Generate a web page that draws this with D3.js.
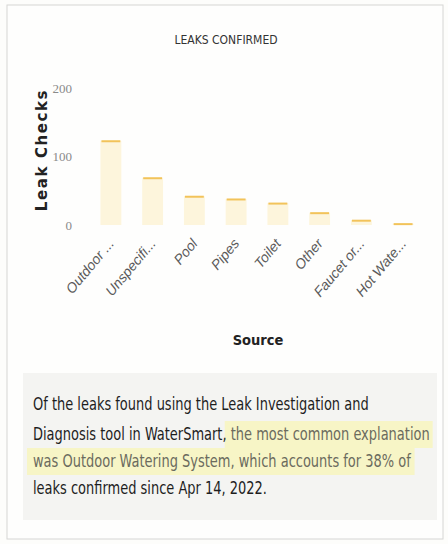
<!DOCTYPE html>
<html>
<head>
<meta charset="utf-8">
<script src="https://cdn.jsdelivr.net/npm/d3@7"></script>
<style>
  body { margin: 0; background: #fdfdfb; }
  svg { display: block; }
</style>
</head>
<body>
<svg id="chart"></svg>
<script>
    /* chart data */
    let sources = ["Outdoor ...", "Unspecifi...", "Pool", "Pipes", "Toilet", "Other", "Faucet or...", "Hot Wate..."];
    let leakChecks = [123, 69, 42, 38, 32, 18, 7, 2];
    let yTicks = [0, 100, 200];
    let noteLines = [
        [["Of the leaks found using the Leak Investigation and", false]],
        [["Diagnosis tool in WaterSmart, ", false], ["the most common explanation", true]],
        [["was Outdoor Watering System, which accounts for 38% of", true]],
        [["leaks confirmed since Apr 14, 2022.", false]]
    ];

    let width = 448;
    let height = 544;

    const svg = d3.select("#chart").attr("width", width).attr("height", height)

    // card outline
    svg.append("rect").attr("x", 7).attr("y", 5).attr("width", 436).attr("height", 534)
        .attr("fill", "#fefefd").attr("stroke", "#d6d6d4").attr("stroke-width", 1)

    svg.append("text").text("LEAKS CONFIRMED")
        .attr("x", 226).attr("y", 44).attr("text-anchor", "middle")
        .attr("font-family", "'DejaVu Sans Condensed', sans-serif").attr("font-size", 12)
        .attr("fill", "#333")

    const xScale = d3.scaleBand().domain(sources).range([90, 424]).paddingInner(0.5).paddingOuter(0.25)
    const yScale = d3.scaleLinear().domain([0, 200]).range([225, 88])

    // y axis (no line, just labels)
    let yAxis = d3.axisLeft(yScale).tickValues(yTicks).tickSize(0).tickPadding(0)
    let gy = svg.append("g").attr("transform", "translate(72,0)").call(yAxis)
    gy.select(".domain").remove()
    gy.selectAll("text").attr("font-family", "'Liberation Serif', serif").attr("font-size", 13)
        .attr("fill", "#8a8a8a")

    svg.append("text").text("Leak Checks")
        .attr("transform", "translate(47,150) rotate(-90)")
        .attr("text-anchor", "middle").attr("font-family", "'DejaVu Sans', sans-serif")
        .attr("font-weight", "bold").attr("font-size", 15).attr("letter-spacing", 1.6)
        .attr("fill", "#222")

    // bars
    svg.selectAll("rect.bar").data(leakChecks).enter().append("rect").attr("class", "bar")
        .attr("x", (d, i) => xScale(sources[i]))
        .attr("y", (d) => yScale(d))
        .attr("width", xScale.bandwidth())
        .attr("height", (d) => yScale(0) - yScale(d))
        .attr("fill", "#fdf5dc")

    svg.selectAll("line.cap").data(leakChecks).enter().append("line").attr("class", "cap")
        .attr("x1", (d, i) => xScale(sources[i]) + 1)
        .attr("x2", (d, i) => xScale(sources[i]) + xScale.bandwidth() - 1)
        .attr("y1", (d) => yScale(d) + 0.5)
        .attr("y2", (d) => yScale(d) + 0.5)
        .attr("stroke", "#f2c35a").attr("stroke-width", 2)

    // x axis labels
    let xAxis = d3.axisBottom(xScale).tickSize(0).tickPadding(0)
    let gx = svg.append("g").attr("transform", "translate(0,244)").call(xAxis)
    gx.select(".domain").remove()
    gx.selectAll("text")
        .attr("text-anchor", "end").attr("dy", 0)
        .attr("transform", "translate(4,0) rotate(-50)")
        .attr("font-family", "'Liberation Sans', sans-serif").attr("font-style", "italic")
        .attr("font-size", 14).attr("fill", "#5a5a5a")

    svg.append("text").text("Source")
        .attr("x", 258).attr("y", 345).attr("text-anchor", "middle")
        .attr("font-family", "'DejaVu Sans Condensed', 'DejaVu Sans'").attr("font-weight", "bold")
        .attr("font-size", 14.5).attr("fill", "#222")

    // note box
    svg.append("rect").attr("x", 23).attr("y", 373).attr("width", 414).attr("height", 147)
        .attr("fill", "#f4f4f2")

    let lineY = [410, 440, 467, 494];
    let noteFont = "'DejaVu Sans Condensed', sans-serif"
    let noteSize = 17.5

    // squeeze a tall font horizontally so the longest line spans ~397px like the reference
    let probe = svg.append("text").attr("font-family", noteFont).attr("font-size", noteSize)
        .text(noteLines[1].map((p) => p[0]).join(""))
    let sx = 397 / probe.node().getComputedTextLength()
    probe.remove()

    let note = svg.append("g").attr("transform", "translate(33,0) scale(" + sx + ",1)")
    let hlLayer = note.append("g")
    noteLines.forEach((parts, i) => {
        let t = note.append("text").attr("x", 0).attr("y", lineY[i])
            .attr("font-family", noteFont).attr("font-size", noteSize)
        parts.forEach((p) => {
            let ts = t.append("tspan").text(p[0]).attr("fill", p[1] ? "#6b6b5e" : "#1e1e1e")
            if (p[1]) {
                let b = ts.node().getBBox()
                hlLayer.append("rect").attr("x", b.x - 6 / sx).attr("y", lineY[i] - 19)
                    .attr("width", b.width + 9 / sx).attr("height", 27).attr("fill", "#f7f5c6")
            }
        })
    })
</script>
</body>
</html>
